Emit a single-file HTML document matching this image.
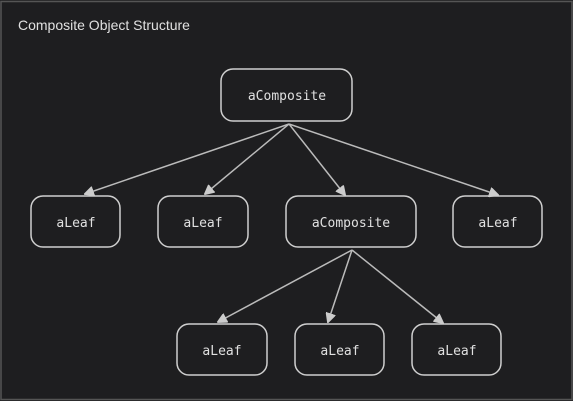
<!DOCTYPE html>
<html><head><style>
html,body{margin:0;padding:0;background:#1e1e20;}
svg{display:block}
</style></head><body>
<svg width="573" height="401" xmlns="http://www.w3.org/2000/svg">
<rect x="0" y="0" width="573" height="401" fill="#1e1e20"/>
<rect x="1" y="1.5" width="571" height="398" fill="none" stroke="#555" stroke-width="1.5"/>
<text x="18" y="30" fill="#e0e0e0" font-family="'Liberation Sans',sans-serif" font-size="14">Composite Object Structure</text>
<g fill="none" stroke="#cfcfcf" stroke-width="1.5">
<rect x="221" y="69" width="131" height="52" rx="12"/>
<rect x="31" y="196" width="89" height="51" rx="12"/>
<rect x="158" y="196" width="90" height="51" rx="12"/>
<rect x="286" y="196" width="130" height="51" rx="12"/>
<rect x="453" y="196" width="89" height="51" rx="12"/>
<rect x="177" y="324" width="90" height="51" rx="12"/>
<rect x="295" y="324" width="89" height="51" rx="12"/>
<rect x="412" y="324" width="89" height="51" rx="12"/>
</g>
<defs><marker id="a" markerWidth="10" markerHeight="10" refX="9" refY="5" orient="auto" markerUnits="userSpaceOnUse"><path d="M0,0 L10,5 L0,10" fill="#ccc" stroke="#ccc"/></marker></defs>
<g stroke="#bbb" stroke-width="1.5" marker-end="url(#a)">
<line x1="289" y1="124" x2="85" y2="194"/>
<line x1="289" y1="124" x2="205" y2="194"/>
<line x1="289" y1="124" x2="345" y2="195"/>
<line x1="289" y1="124" x2="498" y2="195"/>
<line x1="352" y1="250" x2="218" y2="322"/>
<line x1="352" y1="250" x2="328" y2="322"/>
<line x1="352" y1="250" x2="443" y2="323"/>
</g>
<g fill="#e0e0e0" font-family="'DejaVu Sans Mono','Liberation Mono',monospace" font-size="13" text-anchor="middle">
<text x="287" y="100">aComposite</text>
<text x="76" y="227">aLeaf</text>
<text x="203" y="227">aLeaf</text>
<text x="351" y="227">aComposite</text>
<text x="498" y="227">aLeaf</text>
<text x="222" y="355">aLeaf</text>
<text x="340" y="355">aLeaf</text>
<text x="457" y="355">aLeaf</text>
</g>
</svg>
</body></html>
